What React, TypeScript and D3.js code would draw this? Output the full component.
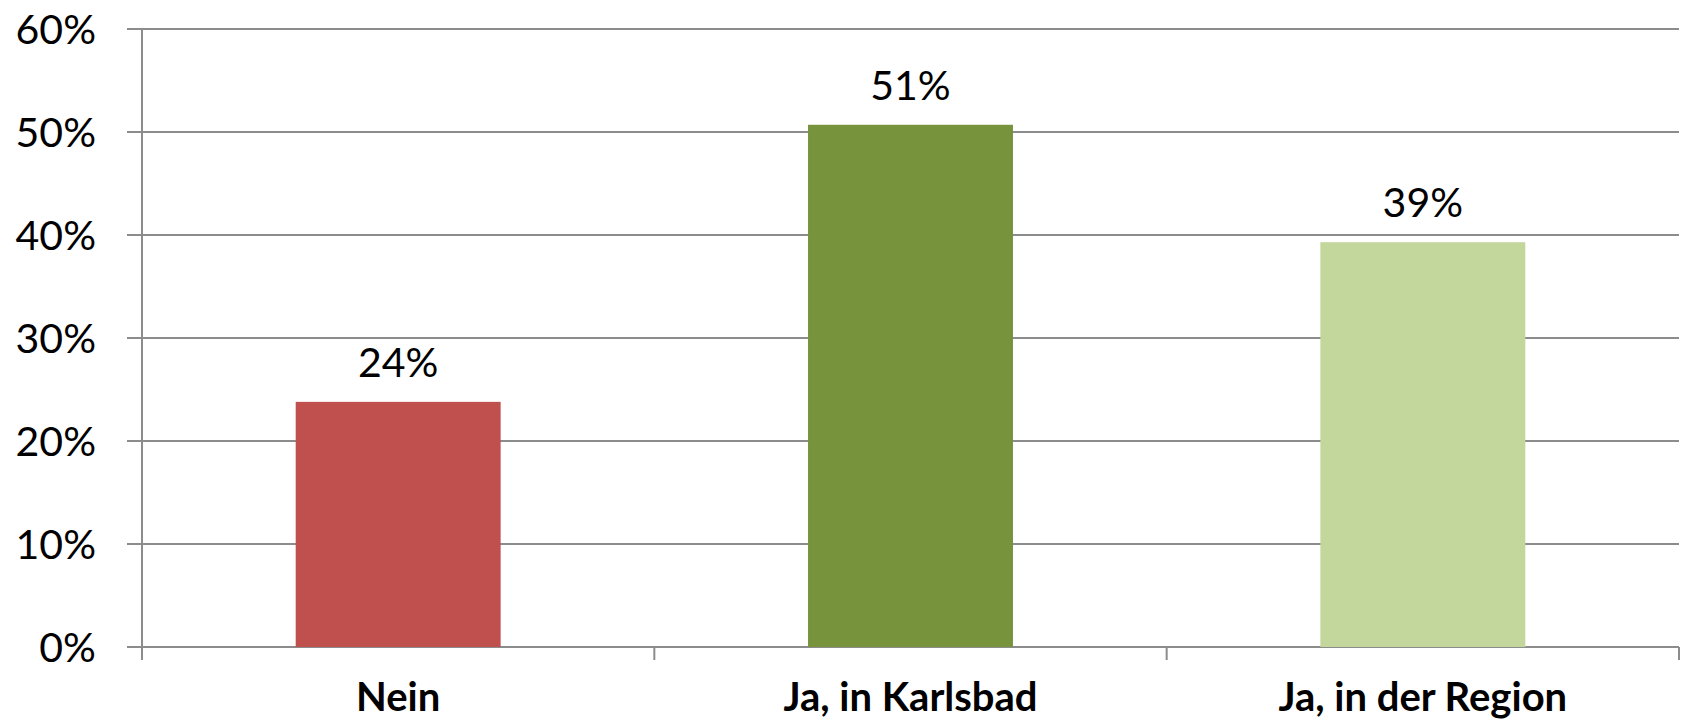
import React, { useEffect } from "react";
import * as d3 from "d3";

// chart data
const categories = ["Nein", "Ja, in Karlsbad", "Ja, in der Region"];
const values = [0.238, 0.507, 0.393];
const valueLabels = ["24%", "51%", "39%"];
const colors = ["#C0504D", "#77933C", "#C3D69B"];
const yTicks = [0, 0.1, 0.2, 0.3, 0.4, 0.5, 0.6];

const W = 1685;
const H = 721;
const FONT = "Lato, 'Open Sans', sans-serif";

export default function App() {
  useEffect(() => {
    document.body.style.margin = "0";
  }, []);

  const left = 142;
  const right = 1679;
  const top = 29;
  const bottom = 647;

  const y = d3.scaleLinear().domain([0, 0.6]).range([bottom, top]);
  const x = d3.scaleBand<string>().domain(categories).range([left, right]).padding(0);
  const barW = x.bandwidth() * 0.4;
  const fmt = d3.format(".0%");
  const axisColor = "#8c8c8c";

  // category boundaries for the bottom ticks
  const boundaries = categories.map((c) => x(c) as number).concat([right]);

  return (
    <svg width={W} height={H} style={{ display: "block", background: "#fff" }}>
      {/* gridlines + y ticks */}
      {yTicks.map((t) => (
        <g key={t}>
          <line x1={left - 15} x2={right} y1={y(t)} y2={y(t)} stroke={axisColor} strokeWidth={2} />
          <text
            x={96}
            y={y(t)}
            dy="0.36em"
            textAnchor="end"
            fontFamily={FONT}
            fontSize={41}
            fill="#000"
          >
            {fmt(t)}
          </text>
        </g>
      ))}
      {/* y axis */}
      <line x1={left} x2={left} y1={top} y2={bottom + 13} stroke={axisColor} strokeWidth={2} />
      {/* bottom ticks */}
      {boundaries.map((b, i) => (
        <line key={i} x1={b} x2={b} y1={bottom} y2={bottom + 13} stroke={axisColor} strokeWidth={2} />
      ))}
      {/* bars */}
      {categories.map((c, i) => {
        const cx = (x(c) as number) + x.bandwidth() / 2;
        return (
          <g key={c}>
            <rect x={cx - barW / 2} y={y(values[i])} width={barW} height={bottom - y(values[i])} fill={colors[i]} />
            <text
              x={cx}
              y={y(values[i]) - 25}
              textAnchor="middle"
              fontFamily={FONT}
              fontSize={41}
              fill="#000"
            >
              {valueLabels[i]}
            </text>
            <text
              x={cx}
              y={711}
              textAnchor="middle"
              fontFamily={FONT}
              fontSize={40}
              fontWeight="bold"
              fill="#000"
            >
              {c}
            </text>
          </g>
        );
      })}
    </svg>
  );
}
